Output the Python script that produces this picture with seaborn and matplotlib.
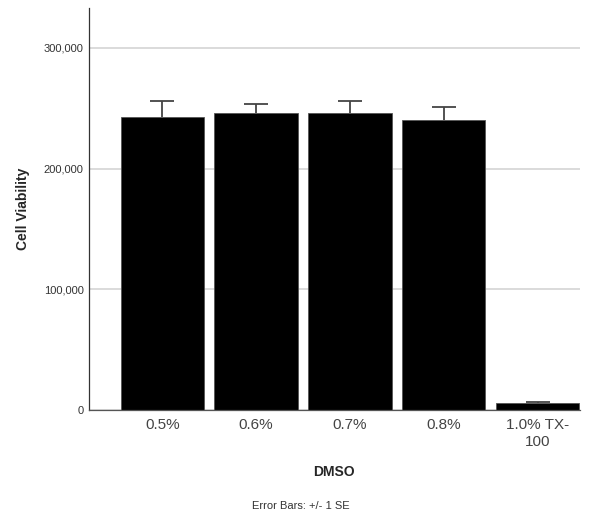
import numpy as np
import pandas as pd
import matplotlib
matplotlib.use("Agg")
import matplotlib.pyplot as plt
import seaborn as sns

# values
groups = ["0.5%", "0.6%", "0.7%", "0.8%", "1.0% TX-\n100"]
means = [242800, 246400, 246400, 240000, 5500]
se = [13000, 7000, 9500, 11000, 1200]

df = pd.DataFrame({"DMSO": groups, "Cell Viability": means})

sns.set_style("white")
plt.rcParams["font.family"] = ["Liberation Sans", "DejaVu Sans"]

fig = plt.figure(figsize=(6.02, 5.18), dpi=100)
ax = fig.add_axes([0.148, 0.2085, 0.815, 0.776])

ax.yaxis.grid(True, color="#d4d4d4", linewidth=1.2)
ax.set_axisbelow(True)

sns.barplot(data=df, x="DMSO", y="Cell Viability", color="black",
            width=0.89, errorbar=None, edgecolor="#555555", linewidth=0.6,
            saturation=1, ax=ax)
for p in ax.patches:
    p.set_zorder(2)

# SPSS-style: only upper half of the SE bar shows above the bar
eb = ax.errorbar(np.arange(len(groups)), means, yerr=[np.zeros(len(se)), se],
                 fmt="none", ecolor="#444444", elinewidth=1.3, capsize=8.5,
                 capthick=1.3, zorder=1)
eb[1][0].set_visible(False)  # hide lower caps

ax.set_ylim(0, 333000)
ax.set_xlim(-0.78, 4.45)
ax.set_yticks([0, 100000, 200000, 300000])
ax.yaxis.set_major_formatter(matplotlib.ticker.FuncFormatter(lambda v, p: f"{int(v):,}"))
ax.tick_params(axis="y", labelsize=8, colors="#333333", length=0, pad=4)
ax.tick_params(axis="x", labelsize=11, colors="#444444", length=0, pad=6)

for s in ["top", "right"]:
    ax.spines[s].set_visible(False)
ax.spines["left"].set_color("#333333")
ax.spines["bottom"].set_color("#555555")
ax.spines["left"].set_linewidth(0.9)
ax.spines["bottom"].set_linewidth(0.9)

ax.set_xlabel("DMSO", fontsize=10, fontweight="bold", labelpad=12)
ax.set_ylabel("Cell Viability", fontsize=10, fontweight="bold", labelpad=10)

fig.text(0.5, 0.023, "Error Bars: +/- 1 SE", ha="center", va="center",
         fontsize=8, color="#333333")

fig.savefig("out.png", dpi=100)
